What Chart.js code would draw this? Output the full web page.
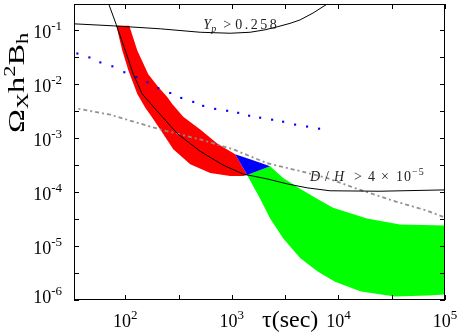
<!DOCTYPE html>
<html>
<head>
<meta charset="utf-8">
<script src="https://cdn.jsdelivr.net/npm/chart.js@4.4.0/dist/chart.umd.min.js"></script>
<style>
html, body { margin: 0; padding: 0; background: #fff; }
#wrap { width: 457px; height: 334px; }
</style>
</head>
<body>
<div id="wrap"><canvas id="chart" width="457" height="334"></canvas></div>
<script>
// axis ticks (half decades get a tick but no label)
var xTickVals = [100, 316.2, 1000, 3162, 10000, 31623, 100000];
var xTickExp  = ['2', '', '3', '', '4', '', '5'];
var yTickVals = [1e-6, 3.162e-6, 1e-5, 3.162e-5, 1e-4, 3.162e-4, 1e-3, 3.162e-3, 1e-2, 3.162e-2, 1e-1];
var yTickExp  = ['-6', '', '-5', '', '-4', '', '-3', '', '-2', '', '-1'];

// Yp > 0.258 curve
var ypTau   = [33.3, 77.2, 212.8, 504.7, 964, 1484, 2051, 2658, 3520, 4366, 5780, 7820, 8523];
var ypOmega = [0.1288, 0.1183, 0.1043, 0.0900, 0.0863, 0.0900, 0.1, 0.1134, 0.1315, 0.1523, 0.2045, 0.2987, 0.3535];

// D/H > 4e-5 curve
var dhTau   = [67.8, 82.4, 100, 118.8, 144.3, 187, 307.1, 504.7, 828.7, 1276, 2140, 3300, 5080, 8340, 24500, 100000];
var dhOmega = [0.3535, 0.1234, 0.0413, 0.01504, 0.00648, 0.003595, 0.001203, 5.64e-4, 3.13e-4, 2.14e-4, 1.74e-4, 1.41e-4, 1.19e-4, 1.05e-4, 1.03e-4, 1.09e-4];

// grey dash-dot curve
var greyTau   = [36.3, 72.3, 119, 213, 505, 1028, 2140, 4365, 7820, 14930, 32500, 67600, 100000];
var greyOmega = [0.00345, 0.00268, 0.00200, 0.00143, 9.36e-4, 6.14e-4, 3.40e-4, 2.43e-4, 1.81e-4, 1.14e-4, 6.88e-5, 4.51e-5, 3.36e-5];

// blue dotted curve
var blueTau   = [35.5, 46.0, 58.3, 75.6, 97.9, 127, 161, 204, 264, 335, 434, 538, 697, 903, 1146, 1452, 1842, 2386, 3027, 3920, 5080, 6580];
var blueOmega = [0.0364, 0.0308, 0.0249, 0.0211, 0.0164, 0.0133, 0.0107, 0.00834, 0.00676, 0.00548, 0.00463, 0.00391, 0.00344, 0.00317, 0.00291, 0.00257, 0.00236, 0.00217, 0.00199, 0.00176, 0.00162, 0.00148];

// red band: right (upper) edge and left (lower) edge, top to bottom
var redHiTau   = [109, 129.6, 164.3, 203.9, 247.5, 275.7, 349.6, 504.7, 728.2, 1074];
var redHiOmega = [0.1183, 0.04131, 0.01504, 0.00870, 0.00571, 0.004256, 0.002461, 0.001424, 7.90e-4, 4.97e-4];
var redLoTau   = [82.3, 93.7, 106.7, 129.6, 153.9, 171.5, 212.8, 281.8, 406.6, 626.2, 964, 1276, 1391];
var redLoOmega = [0.1183, 0.04131, 0.01780, 0.006481, 0.003595, 0.002679, 0.001424, 6.14e-4, 3.26e-4, 2.23e-4, 1.97e-4, 1.97e-4, 2.054e-4];

// blue patch corners
var bluePatchTau   = [1074, 1484, 2286, 1391];
var bluePatchOmega = [4.97e-4, 4.03e-4, 3.00e-4, 2.054e-4];

// green band: upper edge and lower edge, left to right
var greenHiTau   = [2286, 3026, 4366, 6301, 8898, 18530, 37780, 100000];
var greenHiOmega = [3.00e-4, 1.811e-4, 1.140e-4, 7.48e-5, 5.12e-5, 3.22e-5, 2.50e-5, 2.40e-5];
var greenLoTau   = [1391, 1842, 2286, 3026, 4366, 6438, 9292, 16280, 33930, 69140, 100000];
var greenLoOmega = [2.054e-4, 7.48e-5, 3.22e-5, 1.389e-5, 5.98e-6, 3.32e-6, 2.18e-6, 1.43e-6, 1.159e-6, 1.209e-6, 1.26e-6];

function pts(xs, ys) {
    var out = [];
    for (var i = 0; i < xs.length; i++) out.push({x: xs[i], y: ys[i]});
    return out;
}
function ring(xa, ya, xb, yb) {
    // a forwards then b backwards -> closed outline
    return pts(xa, ya).concat(pts(xb, yb).reverse());
}

var serif = "'Liberation Serif', 'DejaVu Serif', serif";

function pow10(ctx, exp, x, y, align) {
    ctx.font = '18px ' + serif;
    var w1 = ctx.measureText('10').width;
    ctx.font = '13px ' + serif;
    var w2 = ctx.measureText(exp).width;
    var x0 = align === 'right' ? x - w1 - w2 : x - (w1 + w2) / 2;
    ctx.font = '18px ' + serif;
    ctx.fillText('10', x0, y);
    ctx.font = '13px ' + serif;
    ctx.fillText(exp, x0 + w1, y - 8);
}

function pieces(ctx, list, x, y) {
    for (var i = 0; i < list.length; i++) {
        var p = list[i];
        ctx.font = p.f + serif;
        ctx.letterSpacing = p.ls || '0px';
        ctx.fillText(p.t, x + p.dx, y + (p.dy || 0));
    }
    ctx.letterSpacing = '0px';
}

var frame = {
    id: 'frame',
    afterDatasetsDraw: function (chart) {
        var ctx = chart.ctx, a = chart.chartArea;
        var xs = chart.scales.x, ys = chart.scales.y;
        ctx.save();
        ctx.strokeStyle = '#000';
        ctx.lineWidth = 1;
        ctx.strokeRect(a.left + 0.5, a.top + 0.5, a.right - a.left - 1, a.bottom - a.top - 1);
        ctx.beginPath();
        xTickVals.forEach(function (v) {
            var px = Math.round(xs.getPixelForValue(v)) + 0.5;
            ctx.moveTo(px, a.bottom); ctx.lineTo(px, a.bottom - 5);
            ctx.moveTo(px, a.top); ctx.lineTo(px, a.top + 5);
        });
        yTickVals.forEach(function (v) {
            var py = Math.round(ys.getPixelForValue(v)) + 0.5;
            ctx.moveTo(a.left, py); ctx.lineTo(a.left + 5, py);
            ctx.moveTo(a.right, py); ctx.lineTo(a.right - 5, py);
        });
        ctx.stroke();

        ctx.fillStyle = '#000';
        ctx.textBaseline = 'alphabetic';
        ctx.textAlign = 'left';
        xTickVals.forEach(function (v, i) {
            if (xTickExp[i]) pow10(ctx, xTickExp[i], xs.getPixelForValue(v), 327, 'center');
        });
        yTickVals.forEach(function (v, i) {
            if (yTickExp[i]) pow10(ctx, yTickExp[i], a.left - 12, Math.min(ys.getPixelForValue(v) + 8, a.bottom + 3), 'right');
        });

        // x title
        ctx.font = '24px ' + serif;
        ctx.fillText('\u03c4(sec)', 262, 327);

        // y title, rotated
        ctx.save();
        ctx.translate(24, 133);
        ctx.rotate(-Math.PI / 2);
        ctx.scale(1.4, 1);
        var parts = [
            {t: '\u03a9', f: '23px ', dy: 0},
            {t: 'X', f: '16px ', dy: 4},
            {t: 'h', f: '23px ', dy: 0},
            {t: '2', f: '16px ', dy: -9},
            {t: 'B', f: '23px ', dy: 0},
            {t: 'h', f: '16px ', dy: 4}
        ];
        var cx = 0;
        parts.forEach(function (p) {
            ctx.font = p.f + serif;
            ctx.fillText(p.t, cx, p.dy);
            cx += ctx.measureText(p.t).width;
        });
        ctx.restore();

        // curve labels
        ctx.fillStyle = '#222';
        pieces(ctx, [
            {t: 'Y', f: 'italic 14px ', dx: 0},
            {t: 'p', f: 'italic 10px ', dx: 8, dy: 3},
            {t: '>', f: '14px ', dx: 20},
            {t: '0.258', f: '14px ', dx: 32, ls: '2.5px'}
        ], xs.getPixelForValue(538), ys.getPixelForValue(0.1043));
        pieces(ctx, [
            {t: 'D', f: 'italic 14px ', dx: 0},
            {t: '/', f: '14px ', dx: 15},
            {t: 'H', f: 'italic 14px ', dx: 24},
            {t: '>', f: '14px ', dx: 44},
            {t: '4', f: '14px ', dx: 58},
            {t: '\u00d7', f: '14px ', dx: 71},
            {t: '10', f: '14px ', dx: 86, ls: '1px'},
            {t: '\u22125', f: '10px ', dx: 102, dy: -6, ls: '1px'}
        ], xs.getPixelForValue(5420), ys.getPixelForValue(1.596e-4));
        ctx.restore();
    }
};

var chart = new Chart(document.getElementById('chart'), {
    type: 'scatter',
    data: {
        datasets: [
            {
                label: 'Yp', data: pts(ypTau, ypOmega), showLine: true,
                borderColor: '#000', borderWidth: 1, pointRadius: 0, fill: false, order: 1
            },
            {
                label: 'D/H', data: pts(dhTau, dhOmega), showLine: true,
                borderColor: '#000', borderWidth: 1, pointRadius: 0, fill: false, order: 2
            },
            {
                label: 'grey', data: pts(greyTau, greyOmega), showLine: true,
                borderColor: 'rgba(140,140,140,0.95)', borderWidth: 1.8, borderDash: [2, 3, 4, 3],
                pointRadius: 0, fill: false, order: 3
            },
            {
                label: 'blue', data: pts(blueTau, blueOmega), showLine: false,
                pointStyle: 'rect', pointRadius: 1.5, pointBorderWidth: 0,
                backgroundColor: '#0000ff', borderColor: '#0000ff', order: 4
            },
            {
                label: 'bluePatch', data: pts(bluePatchTau, bluePatchOmega), showLine: true,
                borderWidth: 0, pointRadius: 0, backgroundColor: '#0000ff', fill: 'shape', order: 8
            },
            {
                label: 'red', data: ring(redLoTau, redLoOmega, redHiTau, redHiOmega), showLine: true,
                borderWidth: 0, pointRadius: 0, backgroundColor: '#ff0000', fill: 'shape', order: 9
            },
            {
                label: 'green', data: ring(greenLoTau, greenLoOmega, greenHiTau, greenHiOmega), showLine: true,
                borderWidth: 0, pointRadius: 0, backgroundColor: '#00ff00', fill: 'shape', order: 10
            }
        ]
    },
    options: {
        responsive: false,
        animation: false,
        devicePixelRatio: 1,
        layout: { padding: { left: 74, top: 1, right: 12, bottom: 34 } },
        plugins: { legend: { display: false }, tooltip: { enabled: false } },
        scales: {
            x: { type: 'logarithmic', min: 33, max: 100000, display: false },
            y: { type: 'logarithmic', min: 1e-6, max: 0.3, display: false }
        }
    },
    plugins: [frame]
});
</script>
</body>
</html>
